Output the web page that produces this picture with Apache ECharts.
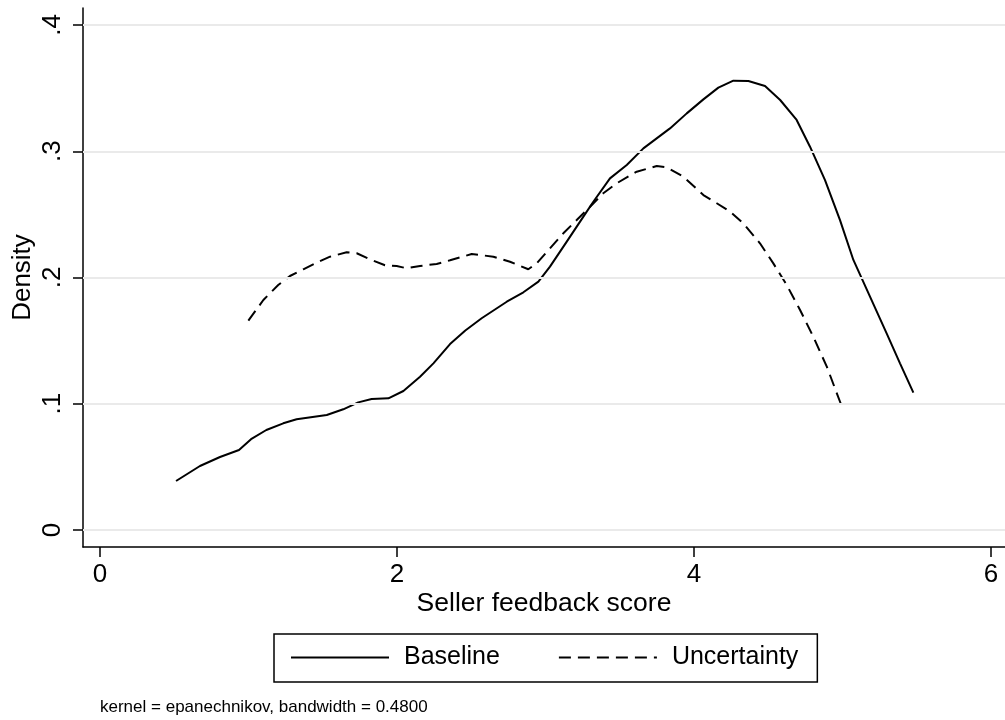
<!DOCTYPE html>
<html>
<head>
<meta charset="utf-8">
<script src="https://cdn.jsdelivr.net/npm/echarts@6/dist/echarts.min.js"></script>
<style>html,body{margin:0;padding:0;background:#fff}#c{width:1005px;height:720px}</style>
</head>
<body>
<div id="c"></div>
<script>
var baselineX = [0.512,0.673,0.808,0.936,1.017,1.12,1.234,1.324,1.527,1.638,1.739,1.829,1.942,2.043,2.155,2.245,2.357,2.46,2.57,2.739,2.851,2.952,3.03,3.143,3.255,3.322,3.434,3.547,3.659,3.838,3.951,4.063,4.164,4.265,4.366,4.478,4.58,4.691,4.781,4.882,4.983,5.073,5.185,5.297,5.387,5.477];
var baselineY = [0.0388,0.0507,0.0578,0.0634,0.0719,0.0792,0.0845,0.0877,0.0911,0.0956,0.1011,0.1038,0.1043,0.1101,0.1214,0.132,0.1473,0.158,0.1677,0.1808,0.1883,0.1967,0.2086,0.2284,0.2482,0.26,0.2785,0.2891,0.3023,0.3181,0.33,0.3411,0.3504,0.3559,0.3556,0.3517,0.3406,0.3248,0.3036,0.2772,0.2455,0.2139,0.1848,0.1558,0.132,0.1088];
var uncertX = [0.999,1.1,1.2,1.279,1.369,1.459,1.549,1.661,1.729,1.818,1.919,1.998,2.065,2.155,2.267,2.357,2.503,2.649,2.761,2.884,2.941,3.03,3.12,3.21,3.3,3.389,3.479,3.614,3.749,3.816,3.928,4.063,4.153,4.242,4.332,4.444,4.534,4.624,4.714,4.803,4.894,4.994];
var uncertY = [0.1658,0.1822,0.194,0.2012,0.2065,0.2118,0.2165,0.22,0.2192,0.2144,0.2097,0.2091,0.2073,0.2091,0.2107,0.2136,0.2186,0.2165,0.2125,0.2065,0.2113,0.2231,0.235,0.2455,0.2561,0.2667,0.2746,0.2838,0.2883,0.2873,0.2799,0.2653,0.2588,0.2522,0.2429,0.2271,0.2112,0.1941,0.1743,0.1531,0.1294,0.0982];
var xTicks = [0,2,4,6];
var yTicks = [0,0.1,0.2,0.3,0.4];
var seriesNames = ['Baseline','Uncertainty'];
var xTitle = 'Seller feedback score';
var yTitle = 'Density';
var noteText = 'kernel = epanechnikov, bandwidth = 0.4800';

function zip(a,b){return a.map(function(v,i){return [v,b[i]];});}
var FONT = 'Liberation Sans, Arial, Helvetica, sans-serif';
var chart = echarts.init(document.getElementById('c'), null, {renderer:'canvas'});
chart.setOption({
  backgroundColor:'#fff',
  animation:false,
  grid:{left:83, right:0, top:8, bottom:173, containLabel:false, outerBoundsMode:'none'},
  xAxis:{
    type:'value', min:-0.1145, max:6.094,
    name:xTitle, nameLocation:'middle', nameGap:43, nameMoveOverlap:false,
    nameTextStyle:{fontFamily:FONT, fontSize:26.5, color:'#000'},
    axisLine:{show:true, onZero:false, lineStyle:{color:'#000', width:1.5}},
    axisTick:{show:true, length:10, customValues:xTicks, lineStyle:{color:'#000', width:1.5}},
    axisLabel:{customValues:xTicks, margin:15, fontFamily:FONT, fontSize:26, color:'#000'},
    splitLine:{show:false}
  },
  yAxis:{
    type:'value', min:-0.01347, max:0.41347,
    name:yTitle, nameLocation:'middle', nameGap:47, nameRotate:90, nameMoveOverlap:false,
    nameTextStyle:{fontFamily:FONT, fontSize:26, color:'#000'},
    axisLine:{show:true, onZero:false, lineStyle:{color:'#000', width:1.5}},
    axisTick:{show:true, length:10, customValues:yTicks, lineStyle:{color:'#000', width:1.5}},
    axisLabel:{customValues:yTicks, rotate:90, margin:17, fontFamily:FONT, fontSize:26, color:'#000',
      formatter:function(v){return v===0?'0':String(+v.toFixed(2)).replace(/^0/,'');}},
    splitLine:{show:false}
  },
  legend:{
    data:seriesNames, left:274, top:634, orient:'horizontal',
    itemWidth:98, itemHeight:14, itemGap:58,
    padding:[11,19,12,16],
    borderColor:'#000', borderWidth:1.5, borderRadius:0,
    backgroundColor:'#fff',
    itemStyle:{opacity:0},
    textStyle:{fontFamily:FONT, fontSize:25, color:'#000', padding:[0,0,0,10]}
  },
  graphic:[{type:'text', left:100, top:699, style:{text:noteText, fontFamily:FONT, fontSize:17, fill:'#000'}}],
  series:[
    {type:'line', name:'_grid', data:[], silent:true, z:1,
     markLine:{silent:true, symbol:'none', label:{show:false},
       lineStyle:{color:'#eaeaea', width:2, type:'solid'},
       data:yTicks.map(function(v){return {yAxis:v};})}},
    {type:'line', name:seriesNames[0], data:zip(baselineX,baselineY), symbol:'none', smooth:false, z:3,
     lineStyle:{color:'#000', width:2, type:'solid'}, itemStyle:{color:'#000'}},
    {type:'line', name:seriesNames[1], data:zip(uncertX,uncertY), symbol:'none', smooth:false, z:3,
     lineStyle:{color:'#000', width:2, type:[12,7]}, itemStyle:{color:'#000'}}
  ]
});
</script>
</body>
</html>
